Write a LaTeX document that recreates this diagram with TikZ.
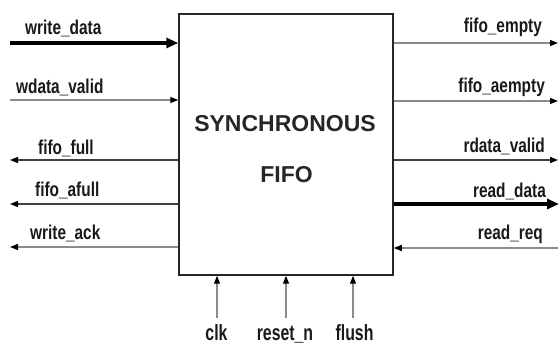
\documentclass[tikz,border=0pt]{standalone}
\usepackage{fontspec}
\setmainfont{Liberation Sans}
\usetikzlibrary{arrows.meta}
\tikzset{
  sig/.style={font=\fontsize{20}{20}\selectfont\bfseries, inner sep=0pt, xscale=0.77, text=black!90},
  bsig/.style={font=\fontsize{22}{22}\selectfont\bfseries, inner sep=0pt, xscale=0.72, text=black!90},
  thin/.style={line width=1.4pt, draw=black!45, -{Triangle[length=8pt,width=6pt,color=black]}},
  thind/.style={line width=1.4pt, draw=black!75, -{Triangle[length=8pt,width=6pt,color=black]}},
  thick/.style={line width=4pt, draw=black, -{Triangle[length=12pt,width=10pt]}},
  fifobox/.style={draw=black!85, line width=1.5pt, minimum width=214pt, minimum height=261pt, inner sep=0pt},
  title/.style={font=\fontsize{23}{23}\selectfont\bfseries, inner sep=0pt, text=black!85}
}
\begin{document}
\begin{tikzpicture}[x=1pt,y=-1pt]
\useasboundingbox (0,0) rectangle (559,344);
\node[fifobox] (fifo) at (286,144.5) {};
\node[title, anchor=base] (t1) at (285,132) {SYNCHRONOUS};
\node[title, anchor=base] (t2) at (286.5,183) {FIFO};
% left side coordinates
\coordinate (l1) at (10,43);
\coordinate (l2) at (10,100);
\coordinate (l3) at (10,160);
\coordinate (l4) at (10,204);
\coordinate (l5) at (10,247);
% right side
\coordinate (r1) at (558,43);
\coordinate (r2) at (558,101);
\coordinate (r3) at (558,160);
\coordinate (r4) at (559,204);
\coordinate (r5) at (558,248);
% bottom
\coordinate (b1) at (217,318);
\coordinate (b2) at (286,318);
\coordinate (b3) at (353,318);

\draw[thick] (l1) -- (l1 -| fifo.west);
\draw[thin] (l2) -- (l2 -| fifo.west);
\draw[thind] (l3 -| fifo.west) -- (l3);
\draw[thind] (l4 -| fifo.west) -- (l4);
\draw[thin] (l5 -| fifo.west) -- (l5);

\draw[thin] (r1 -| fifo.east) -- (r1);
\draw[thin] (r2 -| fifo.east) -- (r2);
\draw[thind] (r3 -| fifo.east) -- (r3);
\draw[thick] (r4 -| fifo.east) -- (r4);
\draw[thin] (r5) -- (r5 -| fifo.east);

\draw[thin] (b1) -- (b1 |- fifo.south);
\draw[thin] (b2) -- (b2 |- fifo.south);
\draw[thin] (b3) -- (b3 |- fifo.south);

\node[sig, anchor=base west] (n1) at (25,35) {write\_data};
\node[sig, anchor=base west] (n2) at (16,94) {wdata\_valid};
\node[sig, anchor=base west] (n3) at (38,155) {fifo\_full};
\node[sig, anchor=base west] (n4) at (35,197) {fifo\_afull};
\node[sig, anchor=base west] (n5) at (30,240) {write\_ack};

\node[sig, anchor=base east] (m1) at (542,33) {fifo\_empty};
\node[sig, anchor=base east] (m2) at (545,93) {fifo\_aempty};
\node[sig, anchor=base east] (m3) at (545,153) {rdata\_valid};
\node[sig, anchor=base east] (m4) at (546,198) {read\_data};
\node[sig, anchor=base east] (m5) at (543,240) {read\_req};

\node[bsig, anchor=base] (c1) at (216.5,340) {clk};
\node[bsig, anchor=base] (c2) at (285,340) {reset\_n};
\node[bsig, anchor=base] (c3) at (354.5,340) {flush};
\end{tikzpicture}
\end{document}
